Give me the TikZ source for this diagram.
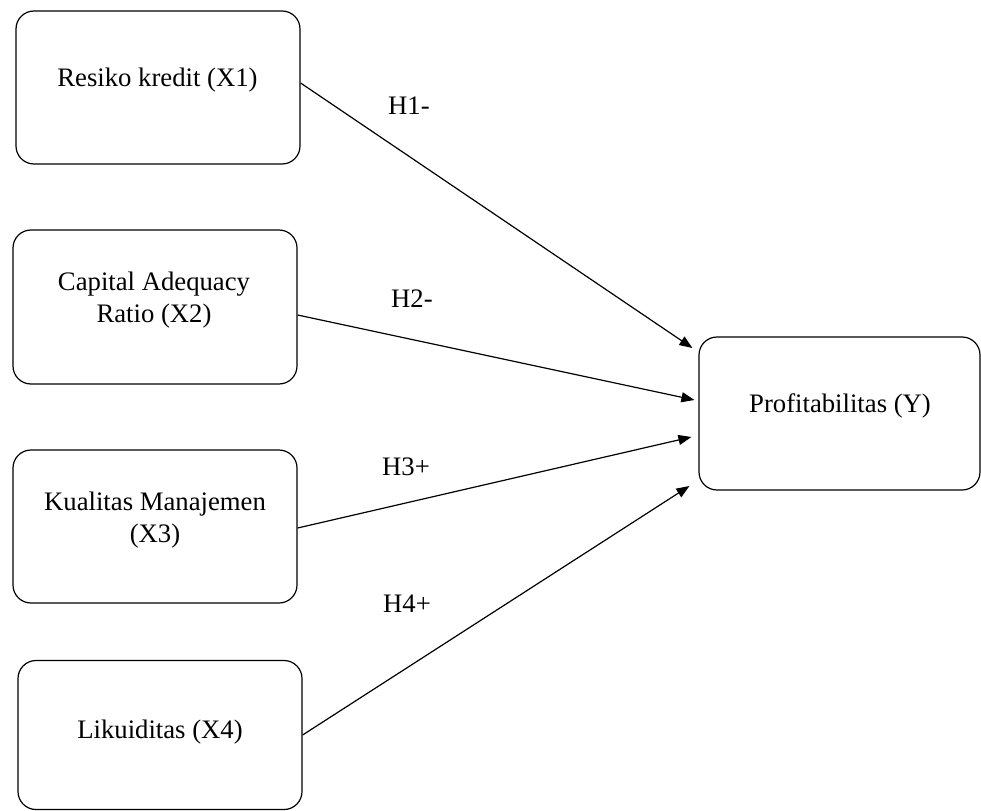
\documentclass[tikz,border=0pt]{standalone}
\usepackage{fontspec}
\setmainfont{Liberation Serif}
\usetikzlibrary{arrows.meta}
\begin{document}
\begin{tikzpicture}[x=1pt,y=-1pt,
  box/.style={draw=black,line width=1.2pt,rounded corners=18pt,inner sep=0pt},
  txt/.style={font=\fontsize{26.7}{32}\selectfont,inner sep=0pt,align=center},
  hyp/.style={font=\fontsize{26.7}{32}\selectfont,inner sep=0pt,anchor=base west},
  conn/.style={line width=1.2pt,-{Triangle[length=13pt,width=10pt]}}]
\useasboundingbox (0,0) rectangle (981,810);
% boxes
\node[box,minimum width=284pt,minimum height=153pt] (x1) at (158,87.5) {};
\node[box,minimum width=284pt,minimum height=154pt] (x2) at (155,307) {};
\node[box,minimum width=284pt,minimum height=153pt] (x3) at (155,526.5) {};
\node[box,minimum width=284pt,minimum height=149pt] (x4) at (160,735) {};
\node[box,minimum width=281pt,minimum height=153pt] (y) at (839.5,413.5) {};
% texts
\node[txt,anchor=base] (x1t) at (157.5,87) {Resiko kredit (X1)};
\node[txt] (x2t) at (154,300) {Capital Adequacy\\Ratio (X2)};
\node[txt] (x3t) at (155,520) {Kualitas Manajemen\\(X3)};
\node[txt,anchor=base] (x4t) at (160,738) {Likuiditas (X4)};
\node[txt,anchor=base] (yt) at (840,412) {Profitabilitas (Y)};
% connectors
\draw[conn] ([yshift=4.5pt]x1.east) -- ([xshift=-6pt,yshift=65.5pt]y.west);
\draw[conn] ([yshift=-8pt]x2.east) -- ([xshift=-4pt,yshift=13.5pt]y.west);
\draw[conn] ([yshift=-1.5pt]x3.east) -- ([xshift=-7pt,yshift=-23.5pt]y.west);
\draw[conn] (x4.east) -- ([xshift=-9pt,yshift=-72.5pt]y.west);
% labels
\node[hyp] (h1) at (388,115) {H1-};
\node[hyp] (h2) at (391,307) {H2-};
\node[hyp] (h3) at (382,475) {H3+};
\node[hyp] (h4) at (383,612) {H4+};
\end{tikzpicture}
\end{document}
